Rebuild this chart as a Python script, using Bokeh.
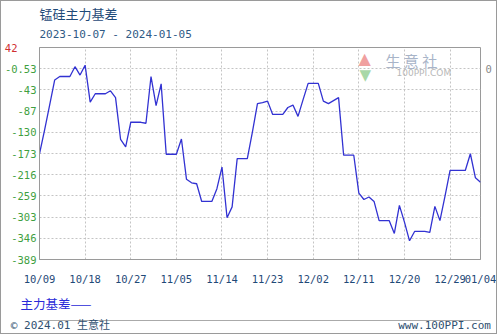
import pandas as pd
from bokeh.plotting import figure
from bokeh.models import FixedTicker, LinearAxis, DatetimeAxis, Range1d, Label, Title, DatetimeTickFormatter
from bokeh.embed import file_html
from bokeh.resources import INLINE

# ---- data ----
dates = pd.date_range("2023-10-09", "2024-01-04", freq="D")
basis = [
    -174, -126, -75, -24, -17, -17, -17, 3, -14, 6,
    -69, -52, -52, -52, -46, -60, -145, -160, -110, -110,
    -110, -112, -17, -76, -32, -175, -175, -175, -144, -226,
    -233, -235, -271, -271, -271, -245, -201, -304, -282, -184,
    -184, -184, -130, -72, -70, -67, -94, -94, -94, -80,
    -75, -98, -64, -31, -31, -31, -67, -72, -66, -60,
    -177, -177, -177, -254, -267, -262, -271, -310, -310, -310,
    -336, -279, -313, -351, -332, -332, -332, -334, -281, -310,
    -260, -208, -208, -208, -208, -174, -223, -232,
]
x_tick_dates = ["2023-10-09", "2023-10-18", "2023-10-27", "2023-11-05", "2023-11-14",
                "2023-11-23", "2023-12-02", "2023-12-11", "2023-12-20", "2023-12-29", "2024-01-04"]
y_ticks = [42, -1.1, -44.2, -87.3, -130.4, -173.5, -216.6, -259.7, -302.8, -345.9, -389]
y_tick_labels = ["", "-0.53", "-43", "-87", "-130", "-173", "-216", "-259", "-303", "-346", "-389"]
y_top_label = "42"
title_text = "锰硅主力基差"
subtitle_text = "2023-10-07 - 2024-01-05"
legend_text = "主力基差——"
footer_left = "© 2024.01 生意社"
footer_right = "www.100PPI.com"

CJK = "Noto Sans CJK SC"
MONO = "DejaVu Sans Mono"
MIX = "DejaVu Sans Mono, Noto Sans CJK SC"

# frame in canvas pixels (page coords)
FL, FR, FT, FB = 38, 480, 47, 259

p = figure(width=497, height=334, output_backend="svg", toolbar_location=None,
           x_axis_type="datetime",
           x_range=Range1d(dates[0], dates[-1]), y_range=Range1d(-389, 42),
           min_border_left=FL - 1, min_border_right=498 - FR, min_border_top=FT - 1,
           min_border_bottom=335 - FB,
           styles={"border": "1px solid #9a9a9a"})
p.background_fill_color = "white"
p.border_fill_color = "white"
p.outline_line_color = "#9a9a9a"

p.line(dates, basis, line_color="#3232d2", line_width=1.3)

x0_ms = pd.Timestamp(dates[0]).value / 1e6
x1_ms = pd.Timestamp(dates[-1]).value / 1e6


def px_to_ms(px):
    return x0_ms + (px - FL) / (FR - FL) * (x1_ms - x0_ms)


def strip(ax):
    ax.major_tick_line_color = None
    ax.minor_tick_line_color = None
    ax.major_tick_out = 0
    ax.major_tick_in = 0


# ---- x axis ----
xt = [pd.Timestamp(d).value // 10**6 for d in x_tick_dates]
xticker = FixedTicker(ticks=xt)
xa = p.xaxis[0]
xa.ticker = xticker
xa.formatter = DatetimeTickFormatter(days="%m/%d", months="%m/%d", years="%m/%d",
                                     hours="%m/%d", minutes="%m/%d")
xa.major_label_text_font = MONO
xa.major_label_text_font_size = "10.5px"
xa.major_label_text_color = "#1f4a78"
xa.major_label_standoff = 13
xa.axis_line_color = "#9a9a9a"
strip(xa)

# ---- y axes ----
yticker = FixedTicker(ticks=y_ticks)
ya = p.yaxis[0]
ya.ticker = yticker
ya.major_label_overrides = {t: l for t, l in zip(y_ticks, y_tick_labels)}
ya.major_label_text_font = MONO
ya.major_label_text_font_size = "10.5px"
ya.major_label_text_color = "#3f9f3f"
ya.major_label_standoff = 3
ya.axis_line_color = "#9a9a9a"
strip(ya)

red_axis = LinearAxis(ticker=FixedTicker(ticks=[y_ticks[0]]),
                      major_label_overrides={y_ticks[0]: y_top_label})
red_axis.major_label_text_font = MONO
red_axis.major_label_text_font_size = "10.5px"
red_axis.major_label_text_color = "#d03030"
red_axis.major_label_standoff = -16
red_axis.axis_line_color = None
strip(red_axis)
p.add_layout(red_axis, "left")

ra = LinearAxis(ticker=FixedTicker(ticks=[y_ticks[1]]),
                major_label_overrides={y_ticks[1]: "0"})
ra.major_label_text_font = MONO
ra.major_label_text_font_size = "10.5px"
ra.major_label_text_color = "#8a8a8a"
ra.major_label_standoff = 5
ra.axis_line_color = None
strip(ra)
p.add_layout(ra, "right")

# ---- grids ----
p.xgrid.ticker = xticker
p.ygrid.ticker = yticker
for g in (p.xgrid[0], p.ygrid[0]):
    g.grid_line_color = "#c4c4c4"
    g.grid_line_dash = "2 2"
    g.grid_line_width = 1

# ---- titles above ----
p.add_layout(Title(text=subtitle_text, text_font=MONO, text_font_size="11px",
                   text_color="#2f5a85", text_font_style="normal", align="left",
                   vertical_align="middle", offset=0, standoff=11), "above")
p.add_layout(Title(text=title_text, text_font=CJK, text_font_size="13px",
                   text_color="#1f4a78", text_font_style="normal", align="left",
                   vertical_align="middle", offset=0, standoff=-5), "above")

# ---- legend line below the x axis ----
p.add_layout(Title(text=legend_text, text_font=CJK, text_font_size="12.5px",
                   text_color="#2a2ad8", text_font_style="normal", align="left",
                   vertical_align="top", offset=19 - FL, standoff=12), "below")

# ---- footer: axis line is the separator, its labels are the footer texts ----
fl_c = px_to_ms(59)
fr_c = px_to_ms(444)
foot = DatetimeAxis(ticker=FixedTicker(ticks=[fl_c, fr_c]),
                    major_label_overrides={fl_c: footer_left, fr_c: footer_right})
foot.major_label_text_font = MIX
foot.major_label_text_font_size = "11px"
foot.major_label_text_color = "#2f5070"
foot.major_label_standoff = -2
foot.axis_line_color = "#aaaaaa"
strip(foot)
p.add_layout(foot, "below")

# ---- watermark inside the frame (screen units from frame bottom-left) ----


def wm(text, cx, cy, color, size, font):
    p.add_layout(Label(x=cx - FL, y=FB - cy, x_units="screen", y_units="screen", text=text,
                       text_color=color, text_font_size=size, text_font=font,
                       text_align="left", text_baseline="middle"))


wm("▲", 357, 58, "#f0a0a0", "16px", "DejaVu Sans")
wm("▼", 358, 74, "#a8d8a8", "15px", "DejaVu Sans")
wm("生 意 社", 384, 60, "#a8b4c8", "15px", CJK)
wm("100PPI.COM", 395, 72, "#b8b8b8", "9px", "DejaVu Sans")

open("out.html", "w").write(file_html(p, INLINE))
